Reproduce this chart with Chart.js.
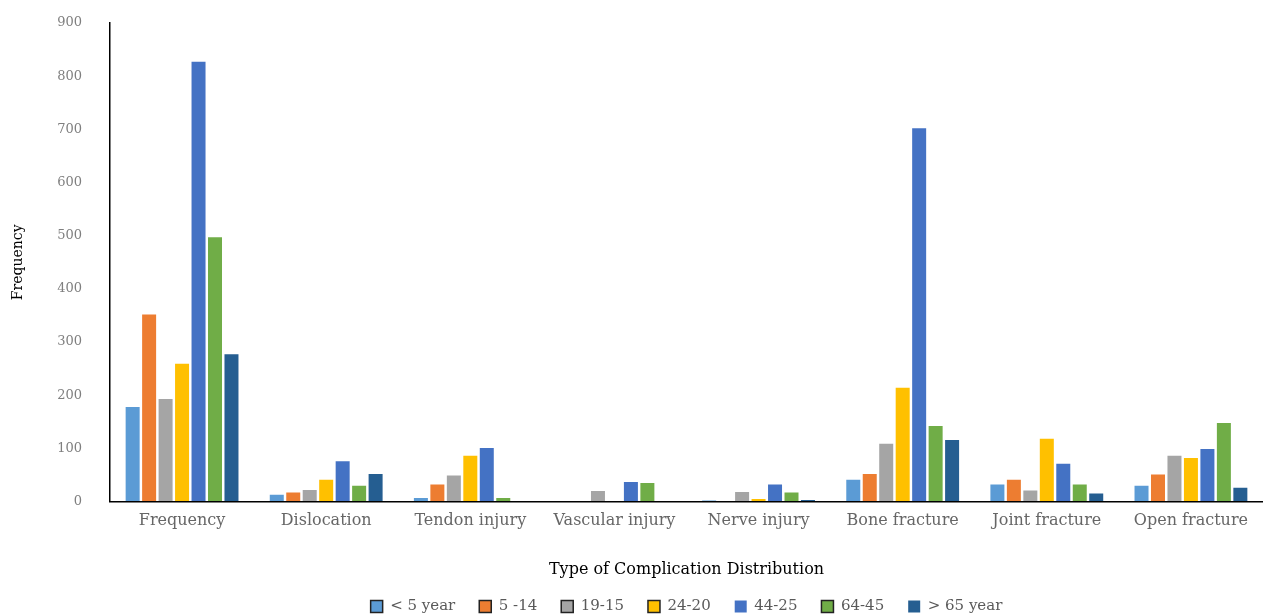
<!DOCTYPE html>
<html>
<head>
<meta charset="utf-8">
<script src="https://cdn.jsdelivr.net/npm/chart.js@4/dist/chart.umd.min.js"></script>
<style>
  html, body { margin: 0; padding: 0; background: #fff; }
  #wrap { width: 1263px; height: 614px; }
</style>
</head>
<body>
<div id="wrap"><canvas id="chart"></canvas></div>
<script>
  var categories = ['Frequency', 'Dislocation', 'Tendon injury', 'Vascular injury', 'Nerve injury', 'Bone fracture', 'Joint fracture', 'Open fracture'];
  var groups = ['< 5 year', '5 -14', '19-15', '24-20', '44-25', '64-45', '> 65 year'];

  var under5 = [178, 13, 7, 0, 2, 41, 32, 30];
  var age5to14 = [352, 17, 32, 1, 0, 52, 41, 51];
  var age15to19 = [193, 22, 49, 20, 18, 109, 21, 86];
  var age20to24 = [259, 41, 86, 0, 5, 214, 118, 82];
  var age25to44 = [827, 76, 101, 37, 32, 702, 71, 99];
  var age45to64 = [497, 30, 7, 35, 17, 142, 32, 148];
  var over65 = [277, 52, 0, 0, 3, 116, 15, 26];

  var yTicks = [0, 100, 200, 300, 400, 500, 600, 700, 800, 900];

  var colors = ['#5b9bd5', '#ed7d31', '#a5a5a5', '#ffc000', '#4472c4', '#70ad47', '#255e91'];
  var series = [under5, age5to14, age15to19, age20to24, age25to44, age45to64, over65];

  Chart.defaults.font.family = "'DejaVu Serif', serif";

  new Chart(document.getElementById('chart'), {
    type: 'bar',
    data: {
      labels: categories,
      datasets: series.map(function (vals, i) {
        return {
          label: groups[i],
          data: vals,
          backgroundColor: colors[i],
          borderWidth: 0,
          categoryPercentage: 0.8,
          barPercentage: 0.85
        };
      })
    },
    options: {
      responsive: true,
      maintainAspectRatio: false,
      animation: false,
      layout: { padding: { top: 23, right: 0, left: 0, bottom: -10 } },
      plugins: {
        legend: {
          position: 'bottom',
          fullSize: false,
          labels: {
            boxWidth: 12,
            boxHeight: 12,
            padding: 24,
            color: '#595959',
            font: { size: 15 },
            generateLabels: function (chart) {
              var items = Chart.defaults.plugins.legend.labels.generateLabels(chart);
              items.forEach(function (it, i) {
                it.lineWidth = (i === 4 || i === 6) ? 0 : 1.5;
                it.strokeStyle = '#222';
              });
              return items;
            }
          }
        },
        tooltip: { enabled: false }
      },
      scales: {
        x: {
          grid: { display: false, drawTicks: false },
          border: { display: true, color: '#000', width: 1.5 },
          ticks: { color: '#666', font: { size: 16 }, padding: 10, maxRotation: 0 },
          title: {
            display: true,
            text: 'Type of Complication Distribution',
            color: '#000',
            font: { size: 16 },
            padding: { top: 19, bottom: -4 }
          }
        },
        y: {
          min: 0,
          max: 900,
          afterBuildTicks: function (scale) {
            scale.ticks = yTicks.map(function (v) { return { value: v }; });
          },
          afterFit: function (scale) {
            scale.width = 110;
          },
          grid: {
            display: true,
            drawOnChartArea: false,
            drawTicks: true,
            tickLength: 28,
            color: 'rgba(0,0,0,0)'
          },
          border: { display: true, color: '#000', width: 1.5 },
          ticks: { color: '#7f7f7f', font: { size: 13 }, padding: 0 },
          title: {
            display: true,
            text: 'Frequency',
            color: '#000',
            font: { size: 14 },
            padding: { top: 10, bottom: 0 }
          }
        }
      }
    }
  });
</script>
</body>
</html>
